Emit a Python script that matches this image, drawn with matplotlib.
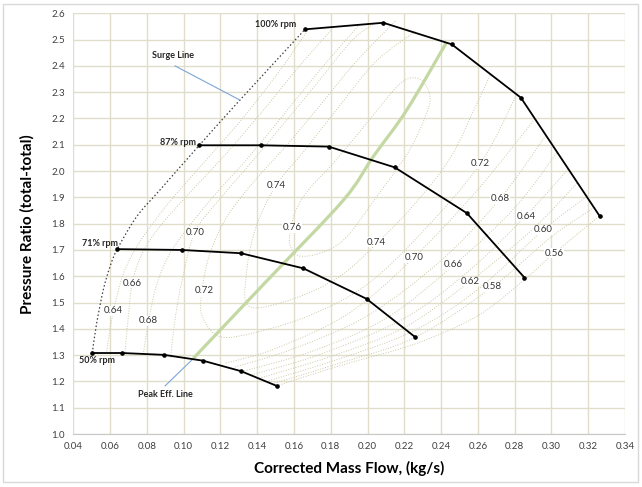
import numpy as np
import matplotlib
matplotlib.use("Agg")
import matplotlib.pyplot as plt
from matplotlib.patches import Rectangle, PathPatch
from matplotlib.path import Path

plt.rcParams['font.family'] = ['Lato', 'DejaVu Sans']

# speed lines (mass flow, pressure ratio)
rpm100_x = [0.166, 0.2086, 0.2458, 0.2834, 0.3262]
rpm100_y = [2.539, 2.564, 2.482, 2.279, 1.829]
rpm87_x = [0.1085, 0.142, 0.1789, 0.2148, 0.254, 0.2853]
rpm87_y = [2.098, 2.098, 2.093, 2.014, 1.840, 1.595]
rpm71_x = [0.0639, 0.0989, 0.1312, 0.1651, 0.1995, 0.226]
rpm71_y = [1.703, 1.700, 1.6875, 1.630, 1.514, 1.368]
rpm50_x = [0.0503, 0.0666, 0.0893, 0.1104, 0.1312, 0.1506]
rpm50_y = [1.308, 1.308, 1.301, 1.279, 1.239, 1.183]

surge_x = [0.0503, 0.0527, 0.0563, 0.0600, 0.0639, 0.0745, 0.0871, 0.1085, 0.1306, 0.166]
surge_y = [1.308, 1.421, 1.548, 1.637, 1.703, 1.827, 1.928, 2.098, 2.270, 2.539]

peak_x = [0.1053, 0.146, 0.1868, 0.2031, 0.2213, 0.2430]
peak_y = [1.288, 1.588, 1.889, 2.055, 2.232, 2.490]

# efficiency contours, each a list of (x, y) points
eff_lines = {
    "0.64L": [(0.058, 1.305), (0.060, 1.40), (0.062, 1.47), (0.065, 1.56), (0.069, 1.64),
              (0.077, 1.74), (0.092, 1.88), (0.112, 2.04), (0.132, 2.20), (0.151, 2.37), (0.168, 2.54)],
    "0.66L": [(0.068, 1.303), (0.070, 1.45), (0.072, 1.573), (0.077, 1.68), (0.086, 1.78),
              (0.101, 1.90), (0.121, 2.05), (0.142, 2.22), (0.163, 2.40), (0.182, 2.55)],
    "0.68L": [(0.078, 1.302), (0.081, 1.431), (0.085, 1.56), (0.092, 1.68), (0.103, 1.79),
              (0.117, 1.91), (0.135, 2.05), (0.155, 2.22), (0.176, 2.40), (0.196, 2.56)],
    "0.70L": [(0.093, 1.290), (0.095, 1.42), (0.099, 1.58), (0.106, 1.766), (0.118, 1.88),
              (0.134, 2.01), (0.152, 2.16), (0.172, 2.33), (0.192, 2.50), (0.205, 2.565)],
    "0.72": [(0.215, 2.57), (0.193, 2.41), (0.173, 2.24), (0.155, 2.09), (0.137, 1.95),
             (0.123, 1.82), (0.114, 1.68), (0.110, 1.545), (0.110, 1.45), (0.1198, 1.370),
             (0.14, 1.388), (0.17, 1.455), (0.20, 1.57), (0.23, 1.77), (0.2612, 2.027), (0.281, 2.29)],
    "0.74": [(0.226, 2.53), (0.205, 2.42), (0.185, 2.25), (0.166, 2.08), (0.1502, 1.945),
             (0.139, 1.78), (0.134, 1.60), (0.136, 1.484), (0.16, 1.515),
             (0.185, 1.60), (0.205, 1.725), (0.225, 1.87), (0.245, 2.05), (0.259, 2.25), (0.267, 2.37)],
    "0.76": [(0.163, 1.677), (0.175, 1.690), (0.188, 1.745), (0.205, 1.903), (0.222, 2.07),
             (0.231, 2.20), (0.234, 2.283), (0.2285, 2.349), (0.218, 2.334), (0.1995, 2.182),
             (0.1814, 2.030), (0.168, 1.930), (0.161, 1.850), (0.158, 1.770), (0.158, 1.715), (0.163, 1.677)],
    "0.70R": [(0.123, 1.270), (0.15, 1.325), (0.19, 1.46), (0.225, 1.67), (0.26, 1.93), (0.291, 2.199)],
    "0.68R": [(0.128, 1.255), (0.16, 1.325), (0.20, 1.45), (0.24, 1.66), (0.272, 1.894), (0.297, 2.136)],
    "0.66R": [(0.133, 1.240), (0.17, 1.315), (0.21, 1.44), (0.247, 1.643), (0.28, 1.86), (0.303, 2.07)],
    "0.64R": [(0.137, 1.225), (0.175, 1.305), (0.22, 1.44), (0.255, 1.62), (0.286, 1.829), (0.309, 2.007)],
    "0.62R": [(0.141, 1.212), (0.18, 1.295), (0.22, 1.405), (0.2557, 1.580), (0.29, 1.78), (0.314, 1.955)],
    "0.60R": [(0.145, 1.200), (0.183, 1.282), (0.225, 1.392), (0.26, 1.55), (0.2956, 1.776), (0.319, 1.902)],
    "0.58R": [(0.148, 1.190), (0.185, 1.270), (0.226, 1.368), (0.268, 1.560), (0.30, 1.75), (0.323, 1.86)],
    "0.56R": [(0.1506, 1.183), (0.185, 1.260), (0.226, 1.343), (0.26, 1.45), (0.285, 1.585),
              (0.3014, 1.687), (0.3262, 1.829)],
}

eff_labels = ["0.64", "0.66", "0.68", "0.70", "0.72", "0.74", "0.76",
              "0.74", "0.72", "0.70", "0.68", "0.66", "0.64", "0.62", "0.60", "0.58", "0.56"]
eff_label_x = [0.0618, 0.0723, 0.0808, 0.1062, 0.1111, 0.1502, 0.1588,
               0.205, 0.2612, 0.2253, 0.272, 0.2466, 0.2862, 0.2557, 0.2956, 0.268, 0.3014]
eff_label_y = [1.469, 1.573, 1.431, 1.766, 1.545, 1.945, 1.784,
               1.729, 2.027, 1.671, 1.894, 1.643, 1.828, 1.580, 1.776, 1.560, 1.687]

rpm_labels = ["100% rpm", "87% rpm", "71% rpm", "50% rpm"]
rpm_label_x = [0.1502, 0.0971, 0.0545, 0.0527]
rpm_label_y = [2.556, 2.108, 1.725, 1.278]


def smooth(xs, ys):
    # Excel-like smoothed line: Catmull-Rom segments as cubic Beziers
    p = np.column_stack([xs, ys])
    closed = np.allclose(p[0], p[-1])
    if closed:
        ext = np.vstack([p[-2], p, p[1]])
    else:
        ext = np.vstack([p[0], p, p[-1]])
    verts = [p[0]]
    codes = [Path.MOVETO]
    for i in range(1, len(ext) - 2):
        p0, p1, p2, p3 = ext[i - 1], ext[i], ext[i + 1], ext[i + 2]
        verts += [p1 + (p2 - p0) / 6, p2 - (p3 - p1) / 6, p2]
        codes += [Path.CURVE4] * 3
    return Path(verts, codes)


fig = plt.figure(figsize=(6.42, 4.87), dpi=100)
ax = fig.add_axes([73.3 / 642, 53 / 487, (625 - 73.3) / 642, (434 - 13.3) / 487])

ax.set_xlim(0.04, 0.34)
ax.set_ylim(1.0, 2.6)
ax.set_xticks(np.arange(0.04, 0.3401, 0.02))
ax.set_yticks(np.arange(1.0, 2.601, 0.1))
ax.xaxis.set_major_formatter(matplotlib.ticker.FormatStrFormatter('%.2f'))
ax.yaxis.set_major_formatter(matplotlib.ticker.FormatStrFormatter('%.1f'))
ax.tick_params(length=0, labelsize=7, colors='#404040', pad=6)
ax.grid(True, color='#e0ddcb', lw=1.0)
ax.set_axisbelow(True)
for s in ['top', 'right', 'left']:
    ax.spines[s].set_visible(False)
ax.spines['bottom'].set_color('#c8c8c8')

ec = '#cdc8a7'
for k, pts in eff_lines.items():
    xs = [q[0] for q in pts]
    ys = [q[1] for q in pts]
    ax.add_patch(PathPatch(smooth(xs, ys), fill=False, ec=ec, lw=0.7, ls=(0, (1.0, 1.6)), zorder=2))

ax.add_patch(PathPatch(smooth(peak_x, peak_y), fill=False, ec='#c4d8a3', lw=2.3, capstyle='butt', zorder=3))
ax.add_patch(PathPatch(smooth(surge_x, surge_y), fill=False, ec='#404040', lw=0.9, ls=(0, (1.2, 1.8)), zorder=4))

for xs, ys in [(rpm100_x, rpm100_y), (rpm87_x, rpm87_y), (rpm71_x, rpm71_y), (rpm50_x, rpm50_y)]:
    ax.plot(xs, ys, color='black', lw=1.3, marker='o', ms=2.3, zorder=5)

for t, x, y in zip(eff_labels, eff_label_x, eff_label_y):
    ax.text(x, y, t, fontsize=7, color='#333333', ha='center', va='center', zorder=6,
            bbox=dict(boxstyle='square,pad=0.05', fc='white', ec='none'))

for t, x, y in zip(rpm_labels, rpm_label_x, rpm_label_y):
    ax.text(x, y, t, fontsize=6.5, fontweight='bold', color='#262626', ha='center', va='center', zorder=6)

# callouts
ax.plot([0.0953, 0.1306], [2.40, 2.27], color='#7ea6d8', lw=0.8, zorder=4)
ax.text(0.0944, 2.438, "Surge Line", fontsize=6.5, fontweight='bold', color='#262626', ha='center', va='center')
ax.plot([0.0899, 0.1044], [1.183, 1.281], color='#7ea6d8', lw=0.8, zorder=4)
ax.text(0.0899, 1.149, "Peak Eff. Line", fontsize=6.5, fontweight='bold', color='#262626', ha='center', va='center')

ax.set_xlabel("Corrected Mass Flow, (kg/s)", fontsize=11, fontweight='bold', color='black', labelpad=7)
ax.set_ylabel("Pressure Ratio (total-total)", fontsize=11, fontweight='bold', color='black', labelpad=12)

fig.patches.append(Rectangle((3 / 642, 5 / 487), 635 / 642, 478 / 487, transform=fig.transFigure,
                             fill=False, ec='#d9d9d9', lw=1))

fig.savefig("out.png", dpi=100)
